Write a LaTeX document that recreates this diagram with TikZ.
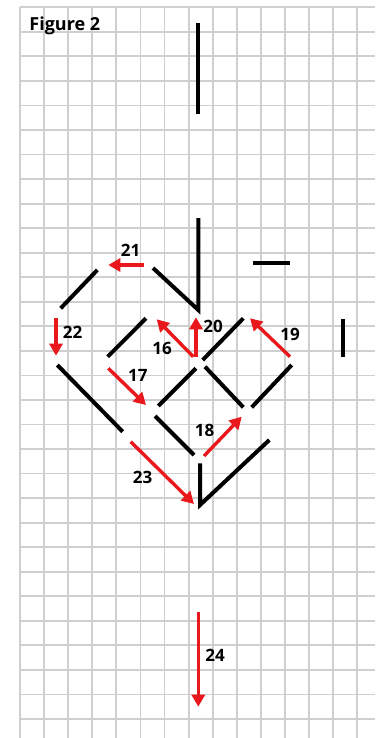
\documentclass[tikz,border=0pt]{standalone}
\usepackage{fontspec}
\setsansfont{Open Sans}
\usetikzlibrary{arrows.meta}
\definecolor{movered}{RGB}{232,24,28}

\begin{document}
\begin{tikzpicture}[x=0.5pt, y=-0.5pt,
    gridline/.style={gray!38, line width=0.9pt},
    stick/.style={black, line width=2pt},
    move/.style={movered, line width=1.7pt, -{Triangle[length=6pt,width=6.5pt]}},
    num/.style={font=\sffamily\bfseries\fontsize{8.5}{10}\selectfont, inner sep=0pt}
]
    % Page
    \fill[white] (0,0) rectangle (375,738);
    \useasboundingbox (0,0) rectangle (375,738);

    % Grid paper
    \foreach \k in {0,...,14} {
        \draw[gridline] (20+24.09*\k,7.3) -- (20+24.09*\k,738);
    }
    \foreach \k in {0,...,29} {
        \draw[gridline] (20,7.3+24.54*\k) -- (375,7.3+24.54*\k);
    }

    % Title
    \node[font=\sffamily\bfseries\fontsize{9}{11}\selectfont, inner sep=0pt, anchor=west] (title) at (29,25.5) {Figure 2};

    % Matchsticks
    \draw[stick] (198.3,23.3) -- (198.3,114);
    \draw[stick] (153,268) -- (198.3,310) -- (198.3,218);
    \draw[stick] (252.7,263.3) -- (290,263.3);
    \draw[stick] (97.3,270) -- (60.7,308.3);
    \draw[stick] (146,318.3) -- (107.7,356.7);
    \draw[stick] (243.3,318.3) -- (202.7,360);
    \draw[stick] (342.7,319.3) -- (342.7,357.3);
    \draw[stick] (57.3,365) -- (122.7,431.7);
    \draw[stick] (158.3,406) -- (196,368.3);
    \draw[stick] (205,366.7) -- (243.3,407.3);
    \draw[stick] (251.7,407.3) -- (291.7,365);
    \draw[stick] (155,416) -- (194,455);
    \draw[stick] (269.3,440) -- (200,505) -- (200,463.3);

    % Moves
    \draw[move] (193.3,356.7) -- (156.7,319.3);
    \draw[move] (108.3,368.3) -- (146,405);
    \draw[move] (204,456) -- (241.7,416.7);
    \draw[move] (290,356.7) -- (250,318.3);
    \draw[move] (196,356.7) -- (196,317.3);
    \draw[move] (144,265) -- (108.3,265);
    \draw[move] (56,318) -- (56,355.7);
    \draw[move] (130.7,441.7) -- (194,504);
    \draw[move] (198.3,611.7) -- (198.3,706.7);

    % Move numbers
    \node[num] (n16) at (162,348) {16};
    \node[num] (n17) at (137.8,375) {17};
    \node[num] (n18) at (204.5,430.5) {18};
    \node[num] (n19) at (290,334.3) {19};
    \node[num] (n20) at (213,326.5) {20};
    \node[num] (n21) at (130.7,250.7) {21};
    \node[num] (n22) at (72.5,332.5) {22};
    \node[num] (n23) at (142.5,477) {23};
    \node[num] (n24) at (215,655) {24};
\end{tikzpicture}
\end{document}
